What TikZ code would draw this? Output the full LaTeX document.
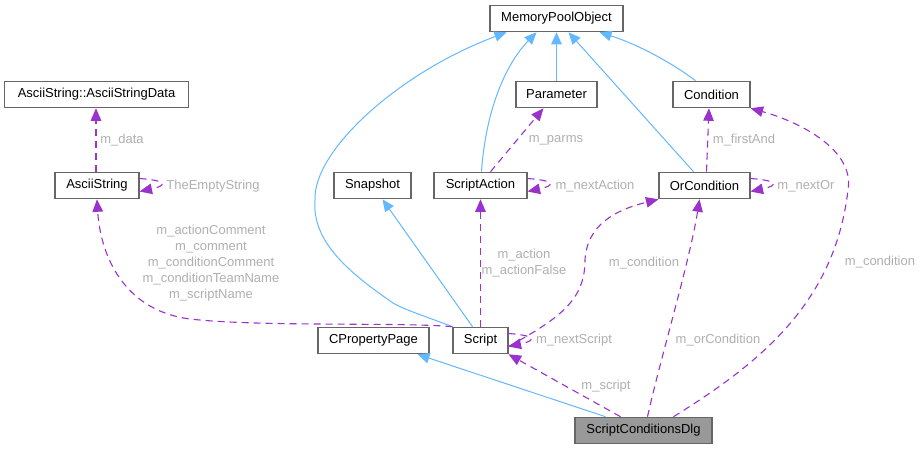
\documentclass[tikz,border=0pt]{standalone}
\usepackage{fontspec}
\setmainfont{Liberation Sans}
\usetikzlibrary{arrows.meta,calc}
\definecolor{inh}{HTML}{63B8FF}
\definecolor{use}{HTML}{9A32CD}
\definecolor{lbl}{HTML}{B0B0B0}
\definecolor{bord}{HTML}{666666}
\definecolor{dlgfill}{HTML}{999999}
\begin{document}
\begin{tikzpicture}[x=1pt,y=-1pt,
  cls/.style={draw=bord, line width=1.1pt, fill=white, minimum height=26.5pt, inner sep=0pt,
    font=\fontsize{13}{16}\selectfont, anchor=center},
  inhe/.style={draw=inh, line width=1pt, -{Triangle[length=12pt,width=10.5pt]}},
  usee/.style={draw=use, line width=1.1pt, dash pattern=on 7pt off 5pt,
    -{Triangle[length=12.5pt,width=10.5pt]}},
  lab/.style={text=lbl, font=\fontsize{13}{16}\selectfont, inner sep=0pt, align=center}
]
\path[use as bounding box, fill=white] (0,0) rectangle (921,449);

% classes
\node[cls, minimum width=133pt] (mpo)  at (556.5,18.5) {MemoryPoolObject};
\node[cls, minimum width=184pt] (asd)  at (96.5,94.5)  {AsciiString::AsciiStringData};
\node[cls, minimum width=84pt]  (asc)  at (97,185.5)   {AsciiString};
\node[cls, minimum width=81pt]  (par)  at (556.5,94.5) {Parameter};
\node[cls, minimum width=77pt]  (cond) at (711.5,94.5) {Condition};
\node[cls, minimum width=77pt]  (snap) at (372.5,185.5) {Snapshot};
\node[cls, minimum width=93pt]  (sact) at (480.5,185.5) {ScriptAction};
\node[cls, minimum width=91pt]  (orc)  at (704.5,185.5) {OrCondition};
\node[cls, minimum width=111pt] (cpp)  at (373.5,340.5) {CPropertyPage};
\node[cls, minimum width=55pt]  (scr)  at (480.5,340.5) {Script};
\node[cls, minimum width=137pt, fill=dlgfill] (dlg) at (643.5,430.5) {ScriptConditionsDlg};

% inheritance
\draw[inhe] (scr.north west) .. controls (430,318) and (405,310) .. (393,303)
   .. controls (345,270) and (312,240) .. (315,200)
   .. controls (313,150) and (400,72) .. ([xshift=-50]mpo.south);
\draw[inhe] ([xshift=1]sact.north) .. controls (485,118) and (502,68) .. ([xshift=-20]mpo.south);
\draw[inhe] (par.north) -- (mpo.south);
\draw[inhe] ([xshift=-11]orc.north) -- ([xshift=12]mpo.south);
\draw[inhe] ([xshift=-16]cond.north) .. controls (675,65) and (640,45) .. ([xshift=43]mpo.south);
\draw[inhe] ([xshift=-8]scr.north) -- ([xshift=10]snap.south);
\draw[inhe] ([xshift=-38]dlg.north) -- ([xshift=44]cpp.south);

% usage
\draw[usee] ([xshift=-1]asc.north) -- ([xshift=-0.5]asd.south);
\node[lab] (l1) at (122,140) {m\_data};

\draw[usee] ([yshift=7]asc.east) .. controls +(28,2) and +(28,-6) .. ([yshift=-6]asc.east);
\node[lab] (l2) at (213,186) {TheEmptyString};

\draw[usee] (scr.north west) .. controls (400,322) and (260,327) .. (190,319)
   .. controls (120,310) and (100,250) .. (asc.south);
\node[lab] (l3) at (211,263) {m\_actionComment\\m\_comment\\m\_conditionComment\\m\_conditionTeamName\\m\_scriptName};

\draw[usee] ([xshift=10]sact.north) -- ([xshift=-13]par.south);
\node[lab] (l4) at (556,140) {m\_parms};

\draw[usee] ([yshift=7]sact.east) .. controls +(28,2) and +(28,-6) .. ([yshift=-6]sact.east);
\node[lab] (l5) at (595,186) {m\_nextAction};

\draw[usee] (scr.north) -- (sact.south);
\node[lab] (l6) at (524,263) {m\_action\\m\_actionFalse};

\draw[usee] ([xshift=2]orc.north) -- ([xshift=-2.5]cond.south);
\node[lab] (l7) at (744,140) {m\_firstAnd};

\draw[usee] ([yshift=7]orc.east) .. controls +(28,2) and +(28,-6) .. ([yshift=-6]orc.east);
\node[lab] (l8) at (806,186) {m\_nextOr};

\draw[usee] ([yshift=-6]scr.east) .. controls (560,318) and (585,300) .. (585,260)
   .. controls (587,225) and (615,210) .. (orc.south west);
\node[lab] (l9) at (644,263) {m\_condition};

\draw[usee] ([yshift=7]scr.east) .. controls +(28,2) and +(28,-6) .. ([yshift=-6]scr.east);
\node[lab] (l10) at (574,340) {m\_nextScript};

\draw[usee] ([xshift=-23]dlg.north) -- (scr.south east);
\node[lab] (l11) at (606,386) {m\_script};

\draw[usee] ([xshift=4]dlg.north) .. controls (660,360) and (690,260) .. ([xshift=-5]orc.south);
\node[lab] (l12) at (718,340) {m\_orCondition};

\draw[usee] ([xshift=30]dlg.north) .. controls (765,360) and (835,300) .. (848,190)
   .. controls (855,150) and (800,122) .. (cond.south east);
\node[lab] (l13) at (880,262) {m\_condition};
\end{tikzpicture}
\end{document}
